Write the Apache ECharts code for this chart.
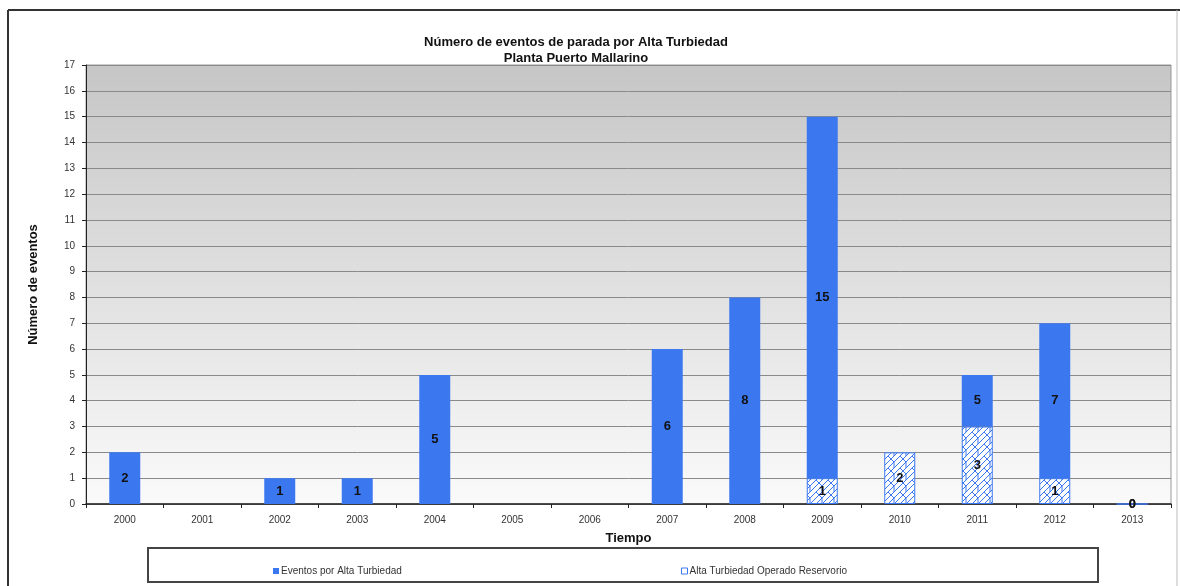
<!DOCTYPE html>
<html style="height: 100%">
<head>
	<meta charset="utf-8">
</head>
<body style="height: 100%; margin: 0; background: #fff">
<div id="container" style="width: 1180px; height: 586px"></div>
<script type="text/javascript" src="https://cdn.jsdelivr.net/npm/echarts@6/dist/echarts.min.js"></script>
<script type="text/javascript">
    var years = ['2000', '2001', '2002', '2003', '2004', '2005', '2006', '2007', '2008', '2009', '2010', '2011', '2012', '2013'];
    // total de eventos por alta turbiedad (etiqueta de la barra azul)
    var eventos = [2, null, 1, 1, 5, null, null, 6, 8, 15, null, 5, 7, 0];
    // eventos con el reservorio operado (parte rayada)
    var reservorio = [null, null, null, null, null, null, null, null, null, 1, 2, 3, 1, 0];
    var yTicks = { min: 0, max: 17, interval: 1 };

    var azul = '#3b78f0';

    // parte azul visible = total - reservorio
    var azulVisible = eventos.map(function (v, i) {
        if (v == null) return null;
        return v - (reservorio[i] || 0);
    });

    // patron rayado para la serie del reservorio
    function hatch() {
        var c = document.createElement('canvas');
        c.width = 12;
        c.height = 12;
        var ctx = c.getContext('2d');
        ctx.fillStyle = '#ffffff';
        ctx.fillRect(0, 0, 12, 12);
        ctx.strokeStyle = azul;
        ctx.lineWidth = 1;
        ctx.beginPath();
        ctx.moveTo(0, 12); ctx.lineTo(12, 0);
        ctx.moveTo(0, 6); ctx.lineTo(6, 0);
        ctx.moveTo(6, 12); ctx.lineTo(12, 6);
        ctx.moveTo(0, 0); ctx.lineTo(6, 6);
        ctx.moveTo(6, 6); ctx.lineTo(6, 12);
        ctx.stroke();
        return c;
    }

    var dom = document.getElementById("container");
    var myChart = echarts.init(dom);
    var font = 'Liberation Sans, Arial, sans-serif';

    var option = {
        backgroundColor: '#ffffff',
        animation: false,
        textStyle: { fontFamily: font },
        title: {
            text: 'Número de eventos de parada por Alta Turbiedad\nPlanta Puerto Mallarino',
            left: 571,
            textAlign: 'center',
            top: 29,
            textStyle: { fontSize: 13, fontWeight: 'bold', color: '#111', lineHeight: 16, fontFamily: font }
        },
        legend: [{
            data: ['Eventos por Alta Turbiedad'],
            left: 268,
            top: 561,
            itemWidth: 6,
            itemHeight: 6,
            itemGap: 2,
            icon: 'rect',
            textStyle: { fontSize: 10, color: '#333', padding: [0, 0, 0, -3] }
        }, {
            data: ['Alta Turbiedad Operado Reservorio'],
            left: 676,
            top: 561,
            itemWidth: 6,
            itemHeight: 6,
            icon: 'rect',
            itemStyle: { color: '#fff', borderColor: azul, borderWidth: 1 },
            textStyle: { fontSize: 10, color: '#333', padding: [0, 0, 0, -3] }
        }],
        grid: {
            left: 86,
            right: 9,
            top: 65,
            bottom: 82,
            show: true,
            borderColor: '#999',
            borderWidth: 1,
            backgroundColor: new echarts.graphic.LinearGradient(0, 0, 0, 1, [
                { offset: 0, color: '#c6c6c6' },
                { offset: 1, color: '#fafafa' }
            ])
        },
        xAxis: {
            type: 'category',
            data: years,
            name: 'Tiempo',
            nameLocation: 'middle',
            nameGap: 28,
            nameTextStyle: { fontSize: 13, fontWeight: 'bold', color: '#111' },
            axisLine: { lineStyle: { color: '#222', width: 1.5 } },
            axisTick: { show: true, length: 4, lineStyle: { color: '#222' } },
            axisLabel: { fontSize: 10, color: '#333', margin: 11 }
        },
        yAxis: {
            type: 'value',
            min: yTicks.min,
            max: yTicks.max,
            interval: yTicks.interval,
            name: 'Número de eventos',
            nameLocation: 'middle',
            nameGap: 46,
            nameRotate: 90,
            nameTextStyle: { fontSize: 13, fontWeight: 'bold', color: '#111' },
            axisLine: { show: true, lineStyle: { color: '#222', width: 1 } },
            axisTick: { show: true, length: 4, lineStyle: { color: '#222' } },
            axisLabel: { fontSize: 10, color: '#333', margin: 11 },
            splitLine: { lineStyle: { color: '#8a8a8a', width: 1 } }
        },
        series: [{
            name: 'Alta Turbiedad Operado Reservorio',
            type: 'bar',
            stack: 'total',
            barWidth: '40%',
            data: reservorio,
            itemStyle: {
                color: { image: hatch(), repeat: 'repeat' },
                borderColor: azul,
                borderWidth: 1
            },
            label: {
                show: true,
                position: 'inside',
                fontSize: 13,
                fontWeight: 'bold',
                color: '#111'
            }
        }, {
            name: 'Eventos por Alta Turbiedad',
            type: 'bar',
            stack: 'total',
            barWidth: '40%',
            data: azulVisible,
            itemStyle: { color: azul },
            label: {
                show: true,
                position: 'inside',
                fontSize: 13,
                fontWeight: 'bold',
                color: '#111',
                formatter: function (p) { return eventos[p.dataIndex]; }
            }
        }],
        graphic: [
            // marco exterior
            { type: 'line', shape: { x1: 8, y1: 10, x2: 1180, y2: 10 }, style: { stroke: '#333', lineWidth: 2 } },
            { type: 'line', shape: { x1: 8, y1: 10, x2: 8, y2: 586 }, style: { stroke: '#333', lineWidth: 2 } },
            { type: 'line', shape: { x1: 1177, y1: 10, x2: 1177, y2: 586 }, style: { stroke: '#bbb', lineWidth: 1 } },
            // caja de la leyenda
            { type: 'rect', shape: { x: 148, y: 548, width: 950, height: 34 }, style: { fill: 'none', stroke: '#444', lineWidth: 2 } }
        ]
    };

    myChart.setOption(option);
</script>
</body>
</html>
